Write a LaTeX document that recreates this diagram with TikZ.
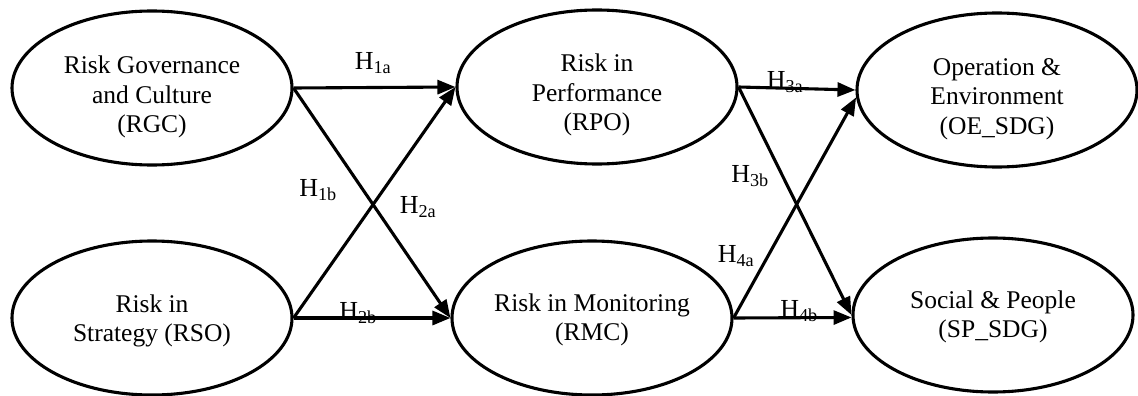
\documentclass[tikz,border=0pt]{standalone}
\usepackage{fontspec}
\setmainfont{Liberation Serif}
\usetikzlibrary{shapes.geometric,arrows.meta}
\begin{document}
\begin{tikzpicture}[x=1pt,y=-1pt,
  construct/.style={draw,line width=3.1pt,ellipse,inner sep=0pt,minimum width=280pt,minimum height=154pt},
  ctext/.style={align=center,font=\fontsize{25.5}{29.5}\selectfont},
  hyp/.style={font=\fontsize{26}{28}\selectfont,inner sep=0pt},
  link/.style={line width=3.1pt,-{Triangle[length=18pt,width=14pt]}}]
\useasboundingbox (0,0) rectangle (1138,396);
\node[construct] (RGC) at (152,88) {};
\node[construct] (RSO) at (152,318) {};
\node[construct] (RPO) at (597,87) {};
\node[construct] (RMC) at (592,318) {};
\node[construct] (OE) at (997,90) {};
\node[construct] (SP) at (993,315) {};
\node[ctext] (tRGC) at (152,97) {Risk Governance\\and Culture\\(RGC)};
\node[ctext] (tRSO) at (152,321) {Risk in\\Strategy (RSO)};
\node[ctext] (tRPO) at (597,95) {Risk in\\Performance\\(RPO)};
\node[ctext] (tRMC) at (592,320) {Risk in Monitoring\\(RMC)};
\node[ctext] (tOE) at (997,99) {Operation \&\\Environment\\(OE\_SDG)};
\node[ctext] (tSP) at (993,317) {Social \& People\\(SP\_SDG)};
\draw[link] (RGC.east) -- (RPO.west);
\draw[link] (RGC.east) -- (RMC.west);
\draw[link] (RSO.east) -- (RPO.west);
\draw[link] (RSO.east) -- (RMC.west);
\draw[link] (RPO.east) -- (OE.west);
\draw[link] (RPO.east) -- (SP.west);
\draw[link] (RMC.east) -- (OE.183);
\draw[link] (RMC.east) -- (SP.181);
\node[hyp] (h1a) at (373,63) {H\textsubscript{1a}};
\node[hyp] (h1b) at (318,190) {H\textsubscript{1b}};
\node[hyp] (h2a) at (418,207) {H\textsubscript{2a}};
\node[hyp] (h2b) at (358,313) {H\textsubscript{2b}};
\node[hyp] (h3a) at (785,82) {H\textsubscript{3a}};
\node[hyp] (h3b) at (750,176) {H\textsubscript{3b}};
\node[hyp] (h4a) at (736,256) {H\textsubscript{4a}};
\node[hyp] (h4b) at (799,311) {H\textsubscript{4b}};
\end{tikzpicture}
\end{document}
